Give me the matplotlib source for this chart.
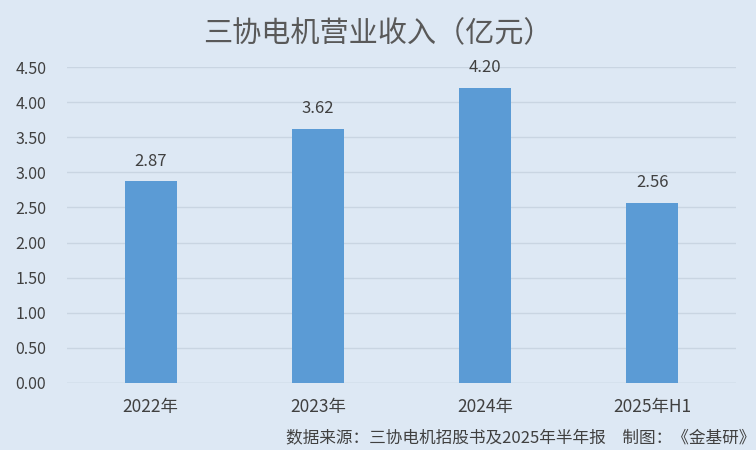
import matplotlib
matplotlib.use("Agg")
import matplotlib.pyplot as plt

plt.rcParams['font.family'] = ['Noto Sans CJK SC', 'DejaVu Sans']

categories = ["2022年", "2023年", "2024年", "2025年H1"]
revenue = [2.87, 3.62, 4.20, 2.56]
yticks = [0, 0.5, 1.0, 1.5, 2.0, 2.5, 3.0, 3.5, 4.0, 4.5]

bg = "#dde8f4"
bar_color = "#5b9bd5"
text_color = "#595959"

fig = plt.figure(figsize=(7.56, 4.5), dpi=100, facecolor=bg)
ax = fig.add_axes([0.0886, 0.149, 0.885, 0.702], facecolor=bg)

x = range(len(categories))
ax.bar(x, revenue, width=0.31, color=bar_color, zorder=3)

for xi, v in zip(x, revenue):
    ax.text(xi, v + 0.17, f"{v:.2f}", ha="center", va="bottom",
            fontsize=12, color="#404040")

ax.set_xlim(-0.5, len(categories) - 0.5)
ax.set_ylim(0, 4.5)
ax.set_yticks(yticks)
ax.set_yticklabels([f"{t:.2f}" for t in yticks], fontsize=11.5, color="#404040")
ax.set_xticks(list(x))
ax.set_xticklabels(categories, fontsize=12.5, color="#404040")
ax.tick_params(length=0, axis="both")
ax.tick_params(axis="x", pad=11)
ax.tick_params(axis="y", pad=15)
ax.yaxis.grid(True, color="#c9d5e2", linewidth=1, zorder=0)
for s in ax.spines.values():
    s.set_visible(False)
ax.axhline(0, color="#c9d5e2", linewidth=1, zorder=2)

fig.text(0.5, 0.925, "三协电机营业收入（亿元）", ha="center", va="center",
         fontsize=21, color=text_color)
fig.text(0.999, 0.027, "数据来源：三协电机招股书及2025年半年报　制图：《金基研》",
         ha="right", va="center", fontsize=12, color="#404040")

fig.savefig("out.png", dpi=100, facecolor=bg)
